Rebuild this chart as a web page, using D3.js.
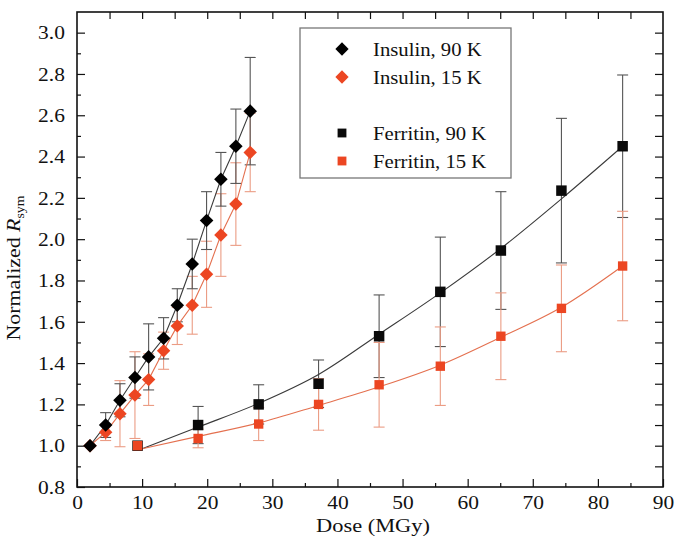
<!DOCTYPE html>
<html>
<head>
<meta charset="utf-8">
<script src="https://cdn.jsdelivr.net/npm/d3@7"></script>
<style>
  body { margin: 0; background: #fff; }
  text { font-family: "Liberation Serif", "Times New Roman", serif; fill: #111; }
</style>
</head>
<body>
<div class="container"></div>
<script>
// insulin data (dose in MGy)
let insulinDose = [2.0, 4.4, 6.6, 8.9, 11.0, 13.3, 15.4, 17.7, 19.9, 22.1, 24.4, 26.6]
let insulin90 = [1.00, 1.10, 1.22, 1.33, 1.43, 1.52, 1.68, 1.88, 2.09, 2.29, 2.45, 2.62]
let insulin90Err = [0, 0.06, 0.08, 0.10, 0.16, 0.10, 0.08, 0.12, 0.14, 0.13, 0.18, 0.26]
let insulin15 = [1.00, 1.065, 1.155, 1.245, 1.32, 1.46, 1.58, 1.68, 1.83, 2.02, 2.17, 2.42]
let insulin15Err = [0, 0.04, 0.16, 0.21, 0.125, 0.09, 0.09, 0.14, 0.16, 0.20, 0.20, 0.19]

// ferritin data
let ferritinDose = [9.3, 18.6, 27.9, 37.1, 46.4, 55.8, 65.1, 74.4, 83.8]
let ferritin90 = [1.00, 1.10, 1.20, 1.30, 1.53, 1.745, 1.945, 2.235, 2.45]
let ferritin90Err = [0, 0.09, 0.095, 0.115, 0.20, 0.265, 0.285, 0.35, 0.345]
let ferritin15 = [1.00, 1.035, 1.105, 1.20, 1.295, 1.385, 1.53, 1.665, 1.87]
let ferritin15Err = [0, 0.045, 0.08, 0.125, 0.205, 0.19, 0.21, 0.21, 0.265]

// fitted curves for ferritin
let fitDose = [10, 18.6, 27.9, 37.1, 46.4, 55.8, 65.1, 74.4, 83.8]
let fit90 = [0.985, 1.09, 1.205, 1.345, 1.54, 1.74, 1.955, 2.195, 2.45]
let fit15 = [0.985, 1.045, 1.11, 1.195, 1.285, 1.39, 1.525, 1.67, 1.87]

let xTicks = [0, 10, 20, 30, 40, 50, 60, 70, 80, 90]
let yTicks = [0.8, 1.0, 1.2, 1.4, 1.6, 1.8, 2.0, 2.2, 2.4, 2.6, 2.8, 3.0]
let legendLabels = ['Insulin, 90 K', 'Insulin, 15 K', 'Ferritin, 90 K', 'Ferritin, 15 K']

let width = 677
let height = 539
let orange = '#ec4622'

let xScale = d3.scaleLinear().domain([0, 90]).range([77, 663])
let yScale = d3.scaleLinear().domain([0.8, 3.1]).range([487, 12])

let svg = d3.select('.container')
    .append('svg')
    .attr('width', width)
    .attr('height', height)

let zip = (xs, ys, es) => xs.map((x, i) => ({ x: x, y: ys[i], e: es ? es[i] : 0 }))

let series = [
    { name: 'ins15', pts: zip(insulinDose, insulin15, insulin15Err), color: orange, line: '#e4704f', err: '#eb9c84', shape: 'diamond', size: 90 },
    { name: 'ins90', pts: zip(insulinDose, insulin90, insulin90Err), color: '#000', line: '#3a3a3a', err: '#555', shape: 'diamond', size: 92 },
    { name: 'fer90', pts: zip(ferritinDose, ferritin90, ferritin90Err), color: '#0a0a0a', line: '#3a3a3a', err: '#555', shape: 'square', size: 110 },
    { name: 'fer15', pts: zip(ferritinDose, ferritin15, ferritin15Err), color: orange, line: '#e4704f', err: '#eb9c84', shape: 'square', size: 88 }
]

// axes, ticks inward on all four sides
let tx = 'scale(1.1,1)'
svg.append('g')
    .attr('transform', 'translate(0,487)')
    .call(d3.axisBottom(xScale).tickValues(xTicks).tickSize(-8).tickPadding(8).tickFormat(d3.format('d')))
    .call(g => g.select('.domain').remove())
    .call(g => g.selectAll('text').style('font-size', '19.5px').style('font-family', 'Liberation Serif').attr('fill', '#111').attr('transform', tx))
svg.append('g')
    .attr('transform', 'translate(0,487)')
    .call(d3.axisBottom(xScale).tickValues(d3.range(5, 90, 10)).tickSize(-4).tickFormat(''))
    .call(g => g.select('.domain').remove())
svg.append('g')
    .attr('transform', 'translate(0,12)')
    .call(d3.axisTop(xScale).tickValues(d3.range(5, 90, 5)).tickSize(-7).tickFormat(''))
    .call(g => g.select('.domain').remove())

svg.append('g')
    .attr('transform', 'translate(77,0)')
    .call(d3.axisLeft(yScale).tickValues(yTicks).tickSize(-8).tickPadding(11).tickFormat(d3.format('.1f')))
    .call(g => g.select('.domain').remove())
    .call(g => g.selectAll('text').style('font-size', '19.5px').style('font-family', 'Liberation Serif').attr('fill', '#111').attr('transform', tx))
svg.append('g')
    .attr('transform', 'translate(77,0)')
    .call(d3.axisLeft(yScale).tickValues(d3.range(0.9, 3.05, 0.2)).tickSize(-4).tickFormat(''))
    .call(g => g.select('.domain').remove())
svg.append('g')
    .attr('transform', 'translate(663,0)')
    .call(d3.axisRight(yScale).tickValues(d3.range(0.9, 3.05, 0.1)).tickSize(-8).tickFormat(''))
    .call(g => g.select('.domain').remove())

svg.selectAll('.tick line').attr('stroke', '#111').attr('stroke-width', 1.2)

svg.append('rect')
    .attr('x', 77).attr('y', 12)
    .attr('width', 663 - 77).attr('height', 487 - 12)
    .attr('fill', 'none')
    .attr('stroke', '#111')
    .attr('stroke-width', 1.6)

// error bars
series.forEach(s => {
    let g = svg.append('g').attr('stroke', s.err).attr('stroke-width', 1.1)
    s.pts.filter(d => d.e > 0).forEach(d => {
        let cx = xScale(d.x), y1 = yScale(d.y - d.e), y2 = yScale(d.y + d.e)
        g.append('line').attr('x1', cx).attr('x2', cx).attr('y1', y1).attr('y2', y2)
        g.append('line').attr('x1', cx - 5.5).attr('x2', cx + 5.5).attr('y1', y1).attr('y2', y1)
        g.append('line').attr('x1', cx - 5.5).attr('x2', cx + 5.5).attr('y1', y2).attr('y2', y2)
    })
})

// connecting lines for insulin, fitted curves for ferritin
let line = d3.line().x(d => xScale(d.x)).y(d => yScale(d.y))
svg.append('path').datum(series[0].pts).attr('d', line).attr('fill', 'none').attr('stroke', series[0].line).attr('stroke-width', 1.1)
svg.append('path').datum(series[1].pts).attr('d', line).attr('fill', 'none').attr('stroke', series[1].line).attr('stroke-width', 1.1)

let curve = d3.line().curve(d3.curveMonotoneX).x(d => xScale(d.x)).y(d => yScale(d.y))
svg.append('path').datum(zip(fitDose, fit90)).attr('d', curve).attr('fill', 'none').attr('stroke', '#3a3a3a').attr('stroke-width', 1.1)
svg.append('path').datum(zip(fitDose, fit15)).attr('d', curve).attr('fill', 'none').attr('stroke', '#e4704f').attr('stroke-width', 1.1)

// markers
let marker = (s, size) => d3.symbol(d3.symbolSquare, size || s.size)()
series.forEach(s => {
    svg.append('g').selectAll('path')
        .data(s.pts)
        .enter()
        .append('path')
        .attr('d', marker(s))
        .attr('fill', s.color)
        .attr('transform', d => `translate(${xScale(d.x)},${yScale(d.y)})` + (s.shape === 'diamond' ? ' rotate(45)' : ''))
})

// legend
let legend = svg.append('g')
legend.append('rect')
    .attr('x', 300).attr('y', 28)
    .attr('width', 211).attr('height', 150)
    .attr('fill', '#fff')
    .attr('stroke', '#777')
    .attr('stroke-width', 1.3)
let legendRows = [49, 77, 133, 161]
let legendSeries = [series[1], series[0], series[2], series[3]]
legendLabels.forEach((label, i) => {
    let s = legendSeries[i]
    let sz = s.shape === 'diamond' ? 88 : 78
    legend.append('path')
        .attr('d', marker(s, sz))
        .attr('fill', s.color)
        .attr('transform', `translate(342,${legendRows[i]})` + (s.shape === 'diamond' ? ' rotate(45)' : ''))
    legend.append('text')
        .attr('transform', `translate(373,${legendRows[i] + 6.5}) scale(1.12,1)`)
        .style('font-size', '18.5px')
        .text(label)
})

// axis titles
svg.append('text')
    .attr('transform', 'translate(373,532) scale(1.15,1)')
    .attr('text-anchor', 'middle')
    .style('font-size', '19.5px')
    .text('Dose (MGy)')

let yTitle = svg.append('text')
    .attr('transform', 'translate(20,268) rotate(-90) scale(1.15,1)')
    .attr('text-anchor', 'middle')
    .style('font-size', '19px')
yTitle.append('tspan').text('Normalized ')
yTitle.append('tspan').style('font-style', 'italic').text('R')
yTitle.append('tspan').attr('dy', 4).style('font-size', '12px').text('sym')
</script>
</body>
</html>
